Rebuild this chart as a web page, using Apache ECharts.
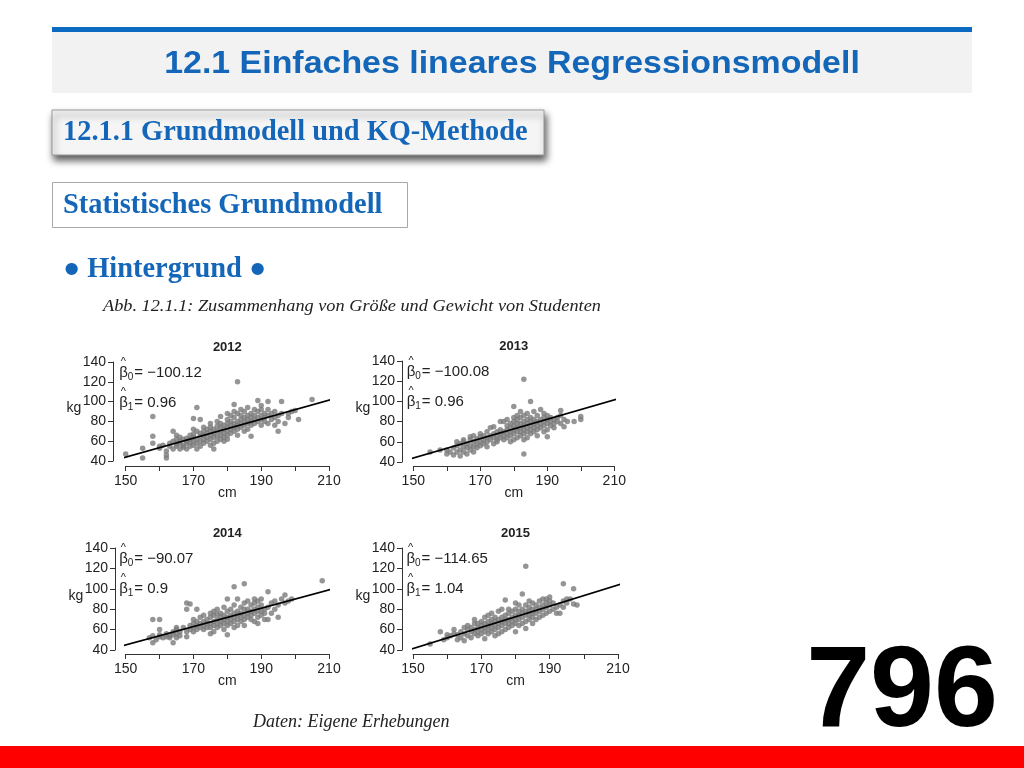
<!DOCTYPE html>
<html><head><meta charset="utf-8">
<script src="https://cdn.jsdelivr.net/npm/echarts@6/dist/echarts.min.js"></script>
<style>html,body{margin:0;padding:0;background:#fff}#c{width:1024px;height:768px}</style>
</head><body><div id="c"></div>
<script>
// ---------- data ----------
const years = ['2012', '2013', '2014', '2015'];
const beta0 = [-100.12, -100.08, -90.07, -114.65];
const beta1 = [0.96, 0.96, 0.9, 1.04];
const beta0Text = ['\u2212100.12', '\u2212100.08', '\u221290.07', '\u2212114.65'];
const beta1Text = ['0.96', '0.96', '0.9', '1.04'];
const xTickLabels = [150, 170, 190, 210];

const data2012 = [[150,47],[155,53],[155,43],[158,85],[158,65],[158,58],[160,55],[160,53],[161,56],[162,46],[162,43],[162,50],[163,55],[163,58],[164,52],[164,60],[164,70],[165,55],[165,57],[165,62],[165,66],[166,52],[166,58],[166,60],[166,64],[167,56],[167,62],[167,54],[168,58],[168,60],[168,63],[168,52],[169,55],[169,59],[169,62],[169,66],[170,56],[170,60],[170,64],[170,67],[170,72],[170,83],[171,94],[171,52],[171,58],[171,62],[171,70],[172,55],[172,60],[172,65],[172,68],[172,82],[173,58],[173,62],[173,66],[173,70],[173,74],[174,60],[174,64],[174,68],[174,72],[175,56],[175,62],[175,66],[175,70],[175,74],[175,78],[176,58],[176,64],[176,68],[176,72],[176,52],[177,60],[177,65],[177,70],[177,75],[177,80],[178,62],[178,66],[178,70],[178,74],[178,78],[178,85],[179,64],[179,68],[179,72],[179,76],[179,60],[180,66],[180,70],[180,74],[180,78],[180,82],[180,88],[180,62],[181,68],[181,72],[181,76],[181,80],[181,86],[182,70],[182,74],[182,78],[182,84],[182,90],[182,97],[183,120],[183,72],[183,76],[183,80],[183,88],[183,66],[184,74],[184,78],[184,82],[184,86],[184,92],[185,70],[185,76],[185,80],[185,84],[185,90],[186,78],[186,82],[186,86],[186,94],[186,72],[187,76],[187,80],[187,84],[187,88],[187,65],[188,78],[188,82],[188,86],[188,92],[189,80],[189,84],[189,90],[189,101],[190,76],[190,82],[190,86],[190,92],[190,96],[191,80],[191,84],[191,88],[192,78],[192,86],[192,100],[192,92],[193,82],[193,88],[194,76],[194,84],[194,90],[195,70],[195,80],[195,86],[196,100],[196,88],[197,78],[198,84],[198,88],[199,90],[200,91],[201,82],[205,102]];

const data2013 = [[155,50],[158,52],[160,52],[160,48],[161,50],[162,47],[162,54],[163,50],[163,56],[163,60],[164,46],[164,52],[164,58],[165,50],[165,55],[165,60],[165,62],[166,48],[166,54],[166,58],[167,52],[167,56],[167,62],[167,65],[168,50],[168,55],[168,60],[168,66],[169,54],[169,58],[169,63],[170,56],[170,60],[170,65],[170,68],[171,58],[171,62],[171,66],[172,55],[172,60],[172,64],[172,70],[173,62],[173,66],[173,74],[174,58],[174,64],[174,68],[174,75],[175,60],[175,66],[175,70],[175,62],[176,64],[176,68],[176,72],[176,80],[177,62],[177,66],[177,70],[177,80],[178,64],[178,68],[178,72],[178,76],[178,82],[179,60],[179,66],[179,70],[179,74],[179,78],[180,62],[180,68],[180,72],[180,76],[180,80],[180,95],[180,84],[181,64],[181,70],[181,74],[181,78],[181,82],[181,86],[182,66],[182,70],[182,74],[182,78],[182,84],[182,90],[183,122],[183,48],[183,62],[183,68],[183,72],[183,76],[183,80],[183,86],[184,70],[184,74],[184,78],[184,82],[184,88],[184,64],[185,100],[185,72],[185,76],[185,80],[185,84],[185,68],[186,70],[186,74],[186,78],[186,82],[186,90],[187,72],[187,76],[187,80],[187,86],[187,66],[188,74],[188,78],[188,82],[188,92],[189,70],[189,76],[189,80],[189,84],[189,88],[190,72],[190,78],[190,82],[190,86],[190,65],[191,76],[191,80],[191,84],[192,78],[192,82],[192,74],[193,80],[193,84],[194,78],[194,86],[194,91],[195,75],[195,82],[196,80],[198,80],[200,82],[200,85]];

const data2014 = [[157,52],[158,70],[158,47],[158,54],[159,50],[160,70],[160,60],[160,53],[160,55],[161,52],[162,53],[162,56],[163,52],[163,54],[164,47],[164,55],[164,58],[165,52],[165,56],[165,60],[165,62],[166,54],[166,58],[167,62],[168,86],[168,80],[168,53],[168,58],[169,85],[169,60],[169,64],[170,58],[170,62],[170,66],[170,70],[171,80],[171,60],[171,64],[171,68],[172,62],[172,66],[172,72],[173,60],[173,64],[173,68],[173,74],[174,62],[174,66],[174,70],[175,56],[175,62],[175,66],[175,72],[175,76],[176,58],[176,64],[176,68],[176,74],[176,78],[177,62],[177,66],[177,70],[177,75],[177,80],[178,64],[178,68],[178,72],[178,76],[179,60],[179,66],[179,70],[179,74],[179,82],[180,55],[180,64],[180,68],[180,72],[180,78],[180,90],[181,66],[181,70],[181,74],[181,80],[182,102],[182,62],[182,68],[182,72],[182,76],[182,84],[183,70],[183,74],[183,78],[183,90],[183,64],[184,68],[184,72],[184,76],[184,82],[185,105],[185,64],[185,70],[185,74],[185,80],[185,86],[186,72],[186,76],[186,80],[186,88],[187,70],[187,74],[187,78],[187,84],[188,68],[188,76],[188,80],[188,86],[188,90],[189,66],[189,72],[189,78],[189,82],[189,88],[190,74],[190,78],[190,84],[190,90],[191,76],[191,80],[191,70],[192,97],[192,70],[192,82],[193,76],[193,86],[194,80],[194,88],[195,72],[195,84],[196,90],[197,94],[197,86],[198,88],[199,90],[208,108]];

const data2015 = [[155,46],[158,58],[159,50],[160,52],[160,55],[161,54],[162,60],[162,56],[163,50],[163,55],[164,52],[164,58],[165,49],[165,56],[165,62],[166,54],[166,60],[166,64],[167,52],[167,58],[167,62],[168,56],[168,60],[168,66],[168,70],[169,54],[169,58],[169,62],[169,66],[170,56],[170,60],[170,64],[170,68],[171,51],[171,58],[171,62],[171,66],[171,72],[172,56],[172,60],[172,64],[172,68],[172,74],[173,58],[173,62],[173,66],[173,70],[173,76],[174,54],[174,60],[174,64],[174,68],[174,72],[175,56],[175,62],[175,66],[175,70],[175,78],[176,58],[176,64],[176,68],[176,72],[176,80],[177,89],[177,60],[177,66],[177,70],[177,74],[178,62],[178,66],[178,70],[178,76],[178,80],[179,64],[179,68],[179,72],[179,78],[180,58],[180,66],[180,70],[180,74],[180,80],[180,86],[181,64],[181,70],[181,74],[181,78],[181,84],[182,95],[182,66],[182,72],[182,76],[182,80],[183,122],[183,61],[183,68],[183,74],[183,78],[183,84],[184,70],[184,74],[184,78],[184,82],[184,88],[185,66],[185,72],[185,76],[185,80],[185,86],[186,70],[186,76],[186,80],[186,84],[187,72],[187,78],[187,82],[187,88],[188,74],[188,80],[188,84],[188,90],[189,76],[189,82],[189,86],[189,90],[190,78],[190,84],[190,88],[190,92],[191,80],[191,86],[192,76],[192,82],[193,76],[193,84],[194,105],[194,82],[194,88],[195,86],[195,90],[196,90],[197,100],[197,85],[198,84]];

const panelData = [data2012, data2013, data2014, data2015];
// regression-line domain (plot region edges, cm)
const lineFrom = [146.3, 146.6, 146.8, 147.1];
const lineTo = [212.3, 212.3, 212.3, 211.1];

// ---------- layout ----------
const layout = [
  {left: 125.7, top: 362, width: 203.3, height: 99, yOff: 12.7, xOff: 5},
  {left: 413.3, top: 361, width: 201, height: 101, yOff: 11.3, xOff: 4},
  {left: 125.7, top: 548, width: 203.3, height: 102, yOff: 10.7, xOff: 4},
  {left: 413, top: 548, width: 205, height: 102, yOff: 11, xOff: 4}
];

const BLUE = '#1466b8';
const INK = '#222';
const SANS = '"Liberation Sans", Arial, sans-serif';
const SERIF = '"Liberation Serif", "Times New Roman", serif';

function txt(x, y, text, o) {
  o = o || {};
  const align = o.align || 'left';
  const el = {
    type: 'text', z: 100, silent: true,
    style: {
      x: x, y: y, text: text,
      fontSize: o.size || 14, fontWeight: o.weight || 'normal', fontStyle: o.style || 'normal',
      fontFamily: o.family || SANS, fill: o.color || INK,
      align: align, textAlign: align, verticalAlign: 'middle', textVerticalAlign: 'middle'
    }
  };
  if (o.scaleX) { el.scaleX = o.scaleX; el.originX = x; el.originY = y; }
  return el;
}

const grids = [], xAxes = [], yAxes = [], series = [], graphics = [];

// slide decorations
graphics.push({type: 'rect', z: 1, silent: true, shape: {x: 52, y: 32, width: 920, height: 61}, style: {fill: '#f2f2f2'}});
graphics.push({type: 'rect', z: 2, silent: true, shape: {x: 52, y: 27, width: 920, height: 5}, style: {fill: '#0b6bc1'}});
graphics.push(txt(512, 64, '12.1 Einfaches lineares Regressionsmodell', {size: 32, weight: 'bold', color: BLUE, align: 'center', scaleX: 1.06}));
graphics.push({type: 'rect', z: 2, silent: true, shape: {x: 52, y: 110, width: 492, height: 45},
  style: {fill: '#f5f5f5', stroke: '#9a9a9a', lineWidth: 1, shadowBlur: 7, shadowOffsetX: 2, shadowOffsetY: 5, shadowColor: 'rgba(0,0,0,0.65)'}});
graphics.push(txt(63, 133, '12.1.1 Grundmodell und KQ-Methode', {size: 28.4, weight: 'bold', color: BLUE, family: SERIF}));
graphics.push({type: 'rect', z: 2, silent: true, shape: {x: 52.5, y: 182.5, width: 355, height: 45}, style: {fill: '#fff', stroke: '#a8a8a8', lineWidth: 1}});
graphics.push(txt(63, 206, 'Statistisches Grundmodell', {size: 28.4, weight: 'bold', color: BLUE, family: SERIF}));
graphics.push(txt(63, 270, '\u25CF Hintergrund \u25CF', {size: 28.4, weight: 'bold', color: BLUE, family: SERIF}));
graphics.push(txt(103, 307, 'Abb. 12.1.1: Zusammenhang von Gr\u00F6\u00DFe und Gewicht von Studenten', {size: 17, style: 'italic', family: SERIF, color: '#222', scaleX: 1.075}));
graphics.push(txt(253, 722, 'Daten: Eigene Erhebungen', {size: 18, style: 'italic', family: SERIF, color: '#222'}));
graphics.push(txt(998, 694, '796', {size: 115, weight: 'bold', color: '#000', align: 'right'}));
graphics.push({type: 'rect', z: 2, silent: true, shape: {x: 0, y: 746, width: 1024, height: 22}, style: {fill: '#ff0000'}});

years.forEach(function (yr, i) {
  const L = layout[i];
  grids.push({left: L.left, top: L.top, width: L.width, height: L.height, containLabel: false});
  const axisCommon = {
    gridIndex: i, type: 'value',
    axisLine: {show: true, onZero: false, lineStyle: {color: '#333', width: 1}},
    axisTick: {show: true, length: 5, lineStyle: {color: '#333', width: 1}},
    splitLine: {show: false}
  };
  xAxes.push(Object.assign({}, axisCommon, {
    min: 150, max: 210, interval: 10, offset: L.xOff,
    axisLabel: {fontSize: 14, color: INK, fontFamily: SANS, margin: 8, showMinLabel: true, showMaxLabel: true,
      formatter: function (v) { return xTickLabels.indexOf(v) >= 0 ? String(v) : ''; }}
  }));
  yAxes.push(Object.assign({}, axisCommon, {
    min: 40, max: 140, interval: 20, offset: L.yOff,
    axisLabel: {fontSize: 14, color: INK, fontFamily: SANS, margin: 7, showMinLabel: true, showMaxLabel: true}
  }));
  series.push({
    type: 'scatter', xAxisIndex: i, yAxisIndex: i, data: panelData[i],
    symbol: 'circle', symbolSize: 5.5, itemStyle: {color: '#7b7b7b'}, z: 2, silent: true
  });
  series.push({
    type: 'line', xAxisIndex: i, yAxisIndex: i, clip: false, symbol: 'none', z: 3, silent: true,
    lineStyle: {color: '#000', width: 1.6},
    data: [[lineFrom[i], beta0[i] + beta1[i] * lineFrom[i]], [lineTo[i], beta0[i] + beta1[i] * lineTo[i]]]
  });

  // panel texts
  graphics.push(txt(L.left + L.width / 2, L.top - 15, yr, {size: 13, weight: 'bold', align: 'center'}));
  graphics.push(txt(L.left - L.yOff - 39, L.top + L.height * 0.47, 'kg', {size: 14, align: 'center'}));
  graphics.push(txt(L.left + L.width / 2, L.top + L.height + L.xOff + 27, 'cm', {size: 14, align: 'center'}));
  const bx = L.left - 6.5;
  const c0 = L.top + 11, c1 = L.top + 41;
  [[c0, '0', beta0Text[i]], [c1, '1', beta1Text[i]]].forEach(function (r) {
    graphics.push(txt(bx + 4.2, r[0] - 11, '^', {size: 11, align: 'center'}));
    graphics.push(txt(bx, r[0], '\u03B2', {size: 15}));
    graphics.push(txt(bx + 8.5, r[0] + 4, r[1], {size: 10}));
    graphics.push(txt(bx + 15, r[0], '= ' + r[2], {size: 15}));
  });
});

const chart = echarts.init(document.getElementById('c'), null, {renderer: 'canvas', width: 1024, height: 768});
chart.setOption({
  backgroundColor: '#fff',
  animation: false,
  grid: grids, xAxis: xAxes, yAxis: yAxes, series: series,
  graphic: {elements: graphics}
});
</script>
</body></html>
